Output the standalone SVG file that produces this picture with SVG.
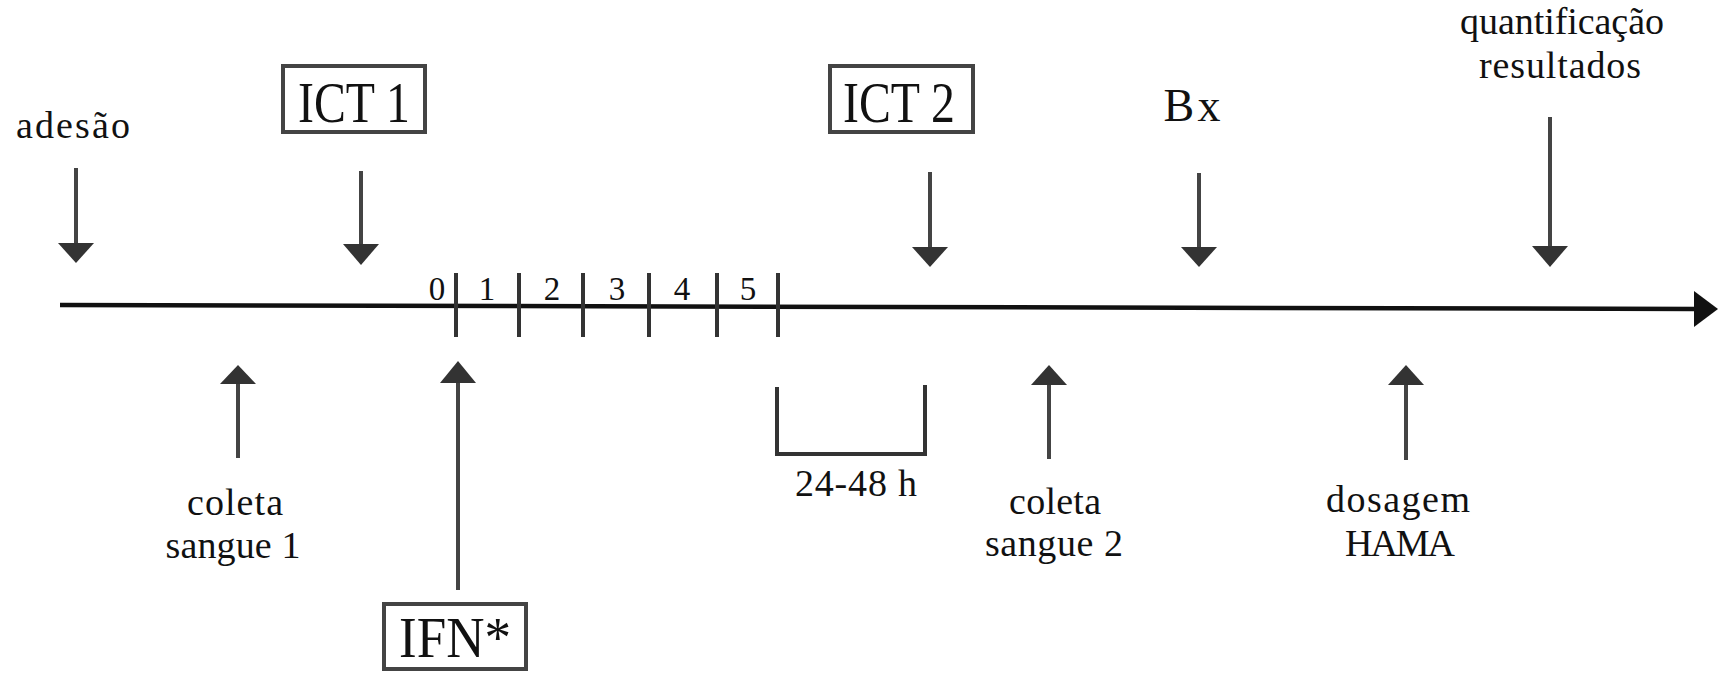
<svg xmlns="http://www.w3.org/2000/svg" width="1726" height="674" viewBox="0 0 1726 674">
  <style>
    .lbl { font-family: "Liberation Serif", "Times New Roman", serif; fill: #111; text-anchor: middle; }
    .sm { font-size: 38px; }
    .big { font-size: 58px; }
    .dig { font-size: 33px; }
    .box { fill: none; stroke: #444; stroke-width: 4; }
    .shaft { stroke: #444; stroke-width: 4; fill: none; }
    .head { fill: #333; }
    .axis { stroke: #111; stroke-width: 4.5; fill: none; }
    .tick { stroke: #333; stroke-width: 4; }
  </style>

  <!-- timeline axis -->
  <g id="axis">
    <path class="axis" d="M60,305 L1697,309"/>
    <polygon fill="#111" points="1694,291 1718,309 1694,327"/>
    <g id="ticks">
      <line class="tick" x1="456" y1="273" x2="456" y2="337"/>
      <line class="tick" x1="519" y1="273" x2="519" y2="337"/>
      <line class="tick" x1="583" y1="273" x2="583" y2="337"/>
      <line class="tick" x1="649" y1="273" x2="649" y2="337"/>
      <line class="tick" x1="717" y1="273" x2="717" y2="337"/>
      <line class="tick" x1="778" y1="273" x2="778" y2="337"/>
    </g>
    <g id="days" class="lbl dig">
      <text x="437" y="300">0</text>
      <text x="487" y="300">1</text>
      <text x="552" y="300">2</text>
      <text x="617" y="300">3</text>
      <text x="682" y="300">4</text>
      <text x="748" y="300">5</text>
    </g>
  </g>

  <!-- event arrows -->
  <g id="connectors">
    <!-- pointing down onto the axis -->
    <line class="shaft" x1="76" y1="168" x2="76" y2="244"/>
    <polygon class="head" points="58,243 94,243 76,263"/>
    <line class="shaft" x1="361" y1="171" x2="361" y2="245"/>
    <polygon class="head" points="343,244 379,244 361,265"/>
    <line class="shaft" x1="930" y1="172" x2="930" y2="248"/>
    <polygon class="head" points="912,247 948,247 930,267"/>
    <line class="shaft" x1="1199" y1="173" x2="1199" y2="248"/>
    <polygon class="head" points="1181,247 1217,247 1199,267"/>
    <line class="shaft" x1="1550" y1="117" x2="1550" y2="247"/>
    <polygon class="head" points="1532,246 1568,246 1550,267"/>
    <!-- pointing up from below -->
    <line class="shaft" x1="238" y1="383" x2="238" y2="458"/>
    <polygon class="head" points="220,384 256,384 238,365"/>
    <line class="shaft" x1="458" y1="382" x2="458" y2="590"/>
    <polygon class="head" points="440,383 476,383 458,361"/>
    <line class="shaft" x1="1049" y1="384" x2="1049" y2="459"/>
    <polygon class="head" points="1031,385 1067,385 1049,365"/>
    <line class="shaft" x1="1406" y1="384" x2="1406" y2="460"/>
    <polygon class="head" points="1388,385 1424,385 1406,365"/>
  </g>

  <g id="adesao">
    <text class="lbl sm" x="73" y="138" textLength="114">adesão</text>
  </g>

  <g id="ict1">
    <rect class="box" x="283" y="66" width="142" height="66"/>
    <text class="lbl big" x="354" y="122" textLength="112" lengthAdjust="spacingAndGlyphs">ICT 1</text>
  </g>

  <g id="ict2">
    <rect class="box" x="830" y="66" width="143" height="66"/>
    <text class="lbl big" x="899" y="122" textLength="112" lengthAdjust="spacingAndGlyphs">ICT 2</text>
  </g>

  <g id="bx">
    <text class="lbl" style="font-size:46px" x="1192" y="121" textLength="57">Bx</text>
  </g>

  <g id="quantificacao">
    <text class="lbl sm" x="1562" y="34" textLength="204">quantificação</text>
    <text class="lbl sm" x="1560" y="78" textLength="162">resultados</text>
  </g>

  <g id="coleta1">
    <text class="lbl sm" x="235" y="515" textLength="96">coleta</text>
    <text class="lbl sm" x="233" y="558" textLength="135">sangue 1</text>
  </g>

  <g id="ifn">
    <rect class="box" x="384" y="604" width="142" height="65"/>
    <text class="lbl big" x="455" y="657" textLength="112" lengthAdjust="spacingAndGlyphs">IFN*</text>
  </g>

  <g id="intervalo">
    <path class="tick" fill="none" d="M777,387 L777,454 L925,454 L925,385"/>
    <text class="lbl sm" x="856" y="496" textLength="122">24-48 h</text>
  </g>

  <g id="coleta2">
    <text class="lbl sm" x="1055" y="514" textLength="92">coleta</text>
    <text class="lbl sm" x="1054" y="556" textLength="138">sangue 2</text>
  </g>

  <g id="dosagem">
    <text class="lbl sm" x="1398" y="512" textLength="144">dosagem</text>
    <text class="lbl sm" x="1400" y="556" textLength="110">HAMA</text>
  </g>
</svg>
